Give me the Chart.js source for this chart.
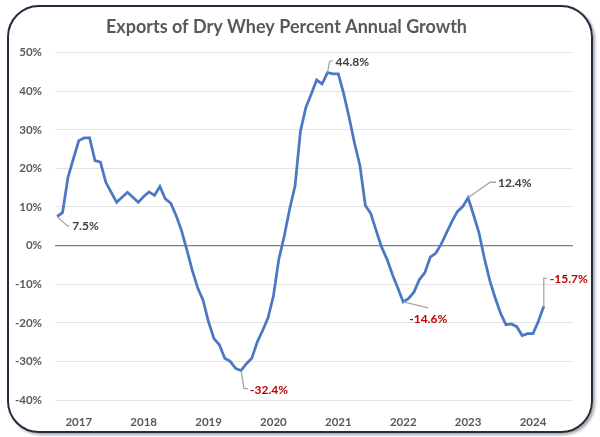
<!DOCTYPE html>
<html>
<head>
<meta charset="utf-8">
<script src="https://cdn.jsdelivr.net/npm/chart.js@4.4.1/dist/chart.umd.min.js"></script>
<style>
  html, body { margin: 0; padding: 0; background: #fff; }
  #wrap { position: relative; width: 600px; height: 437px; }
  #frame {
    position: absolute; left: 7px; top: 5px; width: 582px; height: 424px;
    border: 2px solid #1f2d3d; border-radius: 32px;
    box-shadow: 2px 2px 3px rgba(0,0,0,0.35);
    pointer-events: none;
  }
  canvas { position: absolute; left: 0; top: 0; }
</style>
</head>
<body>
<div id="wrap">
  <canvas id="chart" width="600" height="437"></canvas>
  <div id="frame"></div>
</div>
<script>
// monthly values, Sep 2016 .. Mar 2024 (percent growth vs. year before)
const growth = [
  7.5, 8.6, 17.7, 22.5, 27.2, 27.9, 27.9, 22.0, 21.6, 16.4, 13.8, 11.2,
  12.5, 13.8, 12.5, 11.2, 12.7, 13.9, 13.0, 15.3, 12.1, 11.0, 7.8, 3.9,
  -1.2, -6.5, -11.0, -14.2, -19.8, -24.1, -25.7, -29.2, -30.0, -31.8, -32.4, -30.6,
  -29.2, -25.0, -22.0, -18.7, -13.0, -3.5, 2.5, 9.5, 15.5, 29.7, 35.8, 39.3,
  42.9, 41.9, 44.8, 44.5, 44.5, 39.3, 33.2, 26.5, 20.7, 10.4, 8.3, 3.9,
  -0.4, -3.5, -7.5, -11.0, -14.6, -13.7, -12.0, -8.8, -7.0, -3.0, -2.0, 0.3,
  3.3, 6.2, 8.8, 10.1, 12.4, 8.0, 3.4, -3.2, -9.0, -13.5, -17.5, -20.5,
  -20.3, -21.0, -23.3, -22.8, -22.8, -19.6, -15.7
];
const years = ['2017', '2018', '2019', '2020', '2021', '2022', '2023', '2024'];
const firstJan = 4; // Jan 2017 is the fifth point
const yTicks = [-40, -30, -20, -10, 0, 10, 20, 30, 40, 50];

// callouts: which point, leader path and text offset in pixels
const callouts = [
  { i: 0,  path: [[10, 9], [12, 9.5]],   text: [15, 9.5],  align: 'left' },
  { i: 34, path: [[3, 18], [7, 18]],      text: [9, 19],    align: 'left' },
  { i: 50, path: [[2, -11], [5, -12]],    text: [8, -11],   align: 'left' },
  { i: 64, path: [[25, 6]],               text: [25, 17],   align: 'center' },
  { i: 76, path: [[22, -15.5], [28, -15.5]], text: [30, -14.5], align: 'left' },
  { i: 90, path: [[0, -28], [3, -28]],    text: [6, -27],   align: 'left' }
];

const calloutPlugin = {
  id: 'callouts',
  afterDatasetsDraw(chart) {
    const ctx = chart.ctx;
    const xs = chart.scales.x, ys = chart.scales.y;
    ctx.save();
    callouts.forEach(c => {
      const v = growth[c.i];
      const px = xs.getPixelForValue(c.i);
      const py = ys.getPixelForValue(v);
      ctx.beginPath();
      ctx.moveTo(px, py);
      c.path.forEach(p => ctx.lineTo(px + p[0], py + p[1]));
      ctx.strokeStyle = '#a6a6a6';
      ctx.lineWidth = 1.3;
      ctx.stroke();
      ctx.font = 'bold 12px Lato';
      ctx.fillStyle = v < 0 ? '#c00000' : '#404040';
      ctx.textAlign = c.align;
      ctx.textBaseline = 'middle';
      ctx.fillText(v.toFixed(1) + '%', px + c.text[0], py + c.text[1]);
    });
    ctx.restore();
  }
};

new Chart(document.getElementById('chart'), {
  type: 'line',
  data: {
    datasets: [{
      data: growth.map((v, i) => ({ x: i, y: v })),
      borderColor: '#4a78c2',
      borderWidth: 2.75,
      pointRadius: 0,
      tension: 0,
      fill: false
    }]
  },
  options: {
    responsive: false,
    animation: false,
    layout: { padding: { left: 0, right: 27, top: 0, bottom: 0 } },
    plugins: {
      legend: { display: false },
      tooltip: { enabled: false },
      title: {
        display: true,
        text: 'Exports of Dry Whey Percent Annual Growth',
        color: '#595959',
        font: { family: 'Lato', size: 18, weight: 'bold' },
        padding: { top: 16, bottom: 15 }
      }
    },
    scales: {
      x: {
        type: 'linear',
        min: -0.4,
        max: 95.4,
        afterBuildTicks: s => { s.ticks = years.map((y, k) => ({ value: firstJan + 12 * k })); },
        afterFit: s => { s.height = 37; },
        ticks: {
          autoSkip: false,
          maxRotation: 0,
          padding: 7,
          color: '#595959',
          font: { family: 'Lato', size: 11.5, weight: 'bold' },
          callback: v => years[(v - firstJan) / 12]
        },
        grid: { display: false },
        border: { display: false }
      },
      y: {
        min: -40,
        max: 50,
        afterBuildTicks: s => { s.ticks = yTicks.map(v => ({ value: v })); },
        afterFit: s => { s.width = 55; },
        ticks: {
          padding: 13,
          color: '#595959',
          font: { family: 'Lato', size: 11.5, weight: 'bold' },
          callback: v => v + '%'
        },
        grid: {
          drawTicks: false,
          color: c => c.tick && c.tick.value === 0 ? '#7f7f7f' : '#e3e3e3',
          lineWidth: c => c.tick && c.tick.value === 0 ? 1.3 : 1
        },
        border: { display: false }
      }
    }
  },
  plugins: [calloutPlugin]
});
</script>
</body>
</html>
